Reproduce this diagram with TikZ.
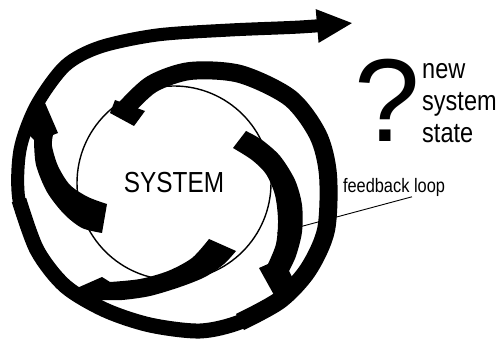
\documentclass[tikz,border=0pt]{standalone}
\usepackage{fontspec}
\newfontfamily\narrowsans[FakeStretch=0.84]{Liberation Sans}
\newfontfamily\plainsans{Liberation Sans}
\usetikzlibrary{arrows.meta,calc}

\begin{document}
\begin{tikzpicture}[x=1pt, y=-1pt,
  band/.style={fill=black},
  ring/.style={draw=black, line join=round},
  lbl/.style={inner sep=0pt, text=black}]
\useasboundingbox (0,0) rectangle (498,339);
% the system
\node[circle, draw, line width=1.4pt, minimum size=194pt, inner sep=0pt,
  font=\narrowsans\fontsize{29}{29}\selectfont] (sys) at (174,183) {SYSTEM};
% spiral leaving the system
\fill[band] (110,113) -- (115,100) -- (145,111) -- (134,126) -- cycle;
\draw[ring, line width=18pt] plot[smooth] coordinates {(126,108) (152,84) (190,71) (240,74) (290,98) (318,135) (328,175) (326,230) (308,270) (280,300) (240,322)};
\draw[ring, line width=15pt] plot[smooth] coordinates {(308,270) (280,300) (240,322) (200,331) (150,325) (105,310) (65,286) (37,250) (19,200)};
\draw[ring, line width=13pt, -{Triangle[length=36pt,width=31pt]}] plot[smooth] coordinates {(37,250) (19,200) (20,150) (36,106) (65,66) (100,47) (157,35) (230,30) (300,27) (353,23)};
% feedback arrows
\fill[band] (233,148) -- (246,131) -- plot[smooth] coordinates {(246,131) (262,140) (280,156) (295,180) (302,205) (302,232) (296,256) (289,271)}
  -- (293,279) -- (279,304) -- (259,268) -- plot[smooth] coordinates {(268,264) (276,244) (278,220) (275,195) (266,174) (252,160) (233,148)} -- cycle;
\fill[band] (102,233) -- (107,204) -- plot[smooth] coordinates {(107,204) (88,197) (70,185) (58,166) (52,146) (53,135)}
  -- (58,133) -- (42,96) -- (27,133) -- plot[smooth] coordinates {(34,140) (36,165) (47,192) (64,214) (82,228) (102,233)} -- cycle;
\fill[band] (209,239) -- (236,251) -- plot[smooth] coordinates {(236,251) (224,264) (205,277) (180,287) (150,296) (122,300) (100,300)}
  -- (95,306) -- (68,292) -- (102,277) -- plot[smooth] coordinates {(110,282) (140,279) (168,271) (192,258) (209,239)} -- cycle;
% labels
\node[lbl, font=\narrowsans\fontsize{19.5}{19.5}\selectfont] (fb) at (394,187.5) {feedback loop};
\coordinate (fbend) at (277,233);
\draw[line width=0.9pt] ($(fb.south)+(18,0)$) -- (fbend);
\node[lbl, font=\plainsans\fontsize{118}{118}\selectfont] (qm) at (387,100) {?};
\node[lbl, anchor=north west, align=left, font=\narrowsans\fontsize{28}{32}\selectfont] (state) at (422,63.5) {new\\system\\state};
\end{tikzpicture}
\end{document}
